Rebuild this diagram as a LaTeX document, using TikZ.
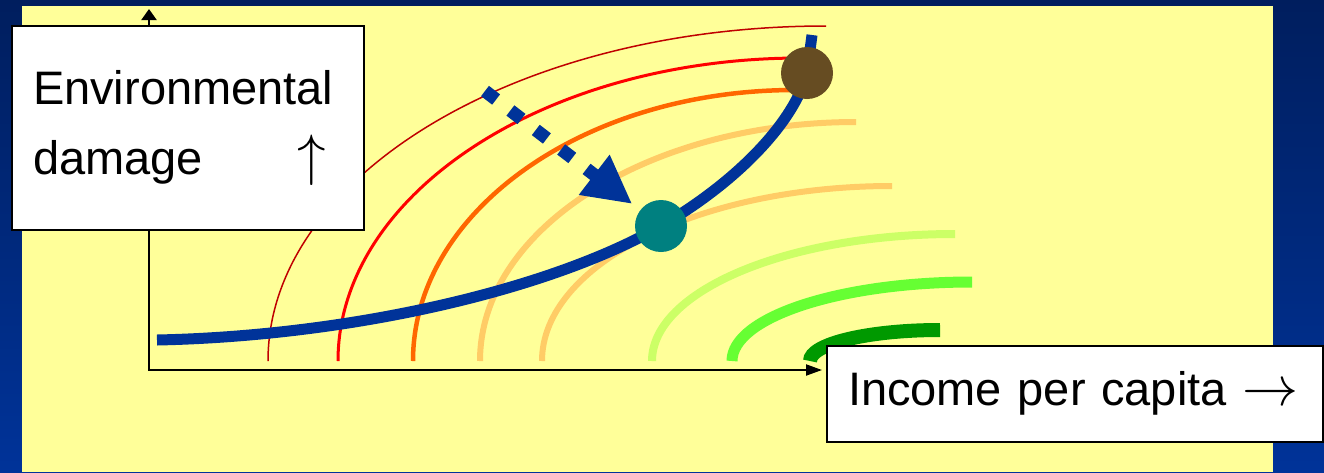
\documentclass[tikz,border=0pt]{standalone}
\usepackage{fontspec}
\setmainfont{Liberation Sans}
\usepackage{tikz}
\usetikzlibrary{arrows.meta}
\usepackage{xcolor}
\definecolor{bgtop}{HTML}{001E5E}
\definecolor{bgbot}{HTML}{003399}
\definecolor{paper}{HTML}{FFFF99}
\definecolor{pathblue}{HTML}{003399}
\definecolor{tealdot}{HTML}{008080}
\definecolor{browndot}{HTML}{664C22}
\definecolor{isoA}{HTML}{C00000}
\definecolor{isoB}{HTML}{FF0000}
\definecolor{isoC}{HTML}{FF6600}
\definecolor{isoD}{HTML}{FFCC66}
\definecolor{isoE}{HTML}{CCFF66}
\definecolor{isoF}{HTML}{66FF33}
\definecolor{isoG}{HTML}{009900}
\newcommand{\bigarrow}[2]{\scalebox{#1}{\fontsize{10pt}{12pt}\selectfont$#2$}}

\tikzset{
  labelbox/.style={draw, line width=2pt, fill=white, inner xsep=21pt, inner ysep=0pt,
    align=left, font={\fontsize{47pt}{70pt}\selectfont}},
  axis/.style={line width=2pt, {Triangle[length=11pt,width=15pt]}-{Triangle[length=16pt,width=11pt]}},
  pathline/.style={draw=pathblue, line width=11pt},
  dot/.style={circle, minimum size=52pt, inner sep=0pt},
}

\begin{document}
\begin{tikzpicture}[x=1pt, y=-1pt]
    \useasboundingbox (0,0) rectangle (1324,472);
    \shade[top color=bgtop, bottom color=bgbot] (0,0) rectangle (1324,472);
    \fill[paper] (22,6) rectangle (1273,472);
    % iso-damage curves
    \foreach \xs/\xe/\yt/\w/\c in {268/826/26/1.5/isoA, 338/801/58/3/isoB, 413/795/90/4.5/isoC,
        480/856/122/6/isoD, 542/892/186/6/isoD, 652/955/234/8/isoE, 732/972/282/11/isoF, 810/940/330/14/isoG} {
      \draw[draw=\c, line width=\w pt] (\xs,361) arc[start angle=180, end angle=270, x radius=\xe-\xs, y radius=361-\yt];
    }
    \node[labelbox, minimum height=96pt, text width=454pt] (xlabel) at (1075,393.5)
      {Income per capita \bigarrow{5.6}{\rightarrow}};
    \coordinate (origin) at (149,370);
    \coordinate (ytip) at (149,9);
    \draw[axis, shorten >=4pt] (ytip) -- (origin) -- (origin -| xlabel.west);
    \node[labelbox, minimum height=204pt, text width=310pt] (ylabel) at (188,128)
      {Environmental\\damage\hspace{95pt}\bigarrow{5.7}{\uparrow}};
    % development path
    \coordinate (cstart) at (157,340);
    \coordinate (teal) at (661,226);
    \coordinate (brown) at (807,73);
    \coordinate (ctop) at (812,35);
    \draw[pathline] (cstart) .. controls (350,336) and (550,290) .. (teal)
      .. controls (740,180) and (795,120) .. (brown) -- (ctop);
    \node[dot, fill=tealdot] (tealdot) at (teal) {};
    \node[dot, fill=browndot] (browndot) at (brown) {};
    \coordinate (dstart) at (485,91);
    \draw[pathblue, line width=13pt, dash pattern=on 14pt off 18pt, shorten >=10pt,
      -{Triangle[length=48pt,width=47pt]}] (dstart) -- (tealdot);
\end{tikzpicture}
\end{document}
